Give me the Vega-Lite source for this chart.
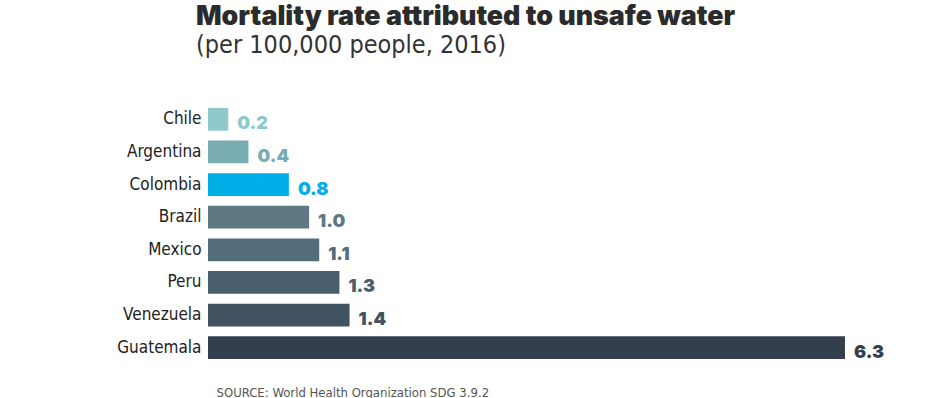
{
  "$schema": "https://vega.github.io/schema/vega-lite/v6.json",
  "autosize": "none",
  "width": 637,
  "height": 261,
  "padding": {"left": 208, "top": 103, "right": 102, "bottom": 34},
  "background": "white",
  "title": {
    "text": "Mortality rate attributed to unsafe water",
    "subtitle": "(per 100,000 people, 2016)",
    "anchor": "start",
    "frame": "group",
    "dx": -12,
    "offset": 45,
    "font": "Inter",
    "fontSize": 26.8,
    "fontWeight": 900,
    "color": "#2b2b2b",
    "subtitleFont": "DejaVu Sans Condensed",
    "subtitleFontSize": 25,
    "subtitleColor": "#333333",
    "subtitlePadding": 2
  },
  "data": {
    "values": [
      {"country": "Chile", "rate": 0.2, "color": "#8fc8cb"},
      {"country": "Argentina", "rate": 0.4, "color": "#7aadb1"},
      {"country": "Colombia", "rate": 0.8, "color": "#00aee8"},
      {"country": "Brazil", "rate": 1.0, "color": "#5e7984"},
      {"country": "Mexico", "rate": 1.1, "color": "#546d7a"},
      {"country": "Peru", "rate": 1.3, "color": "#4a5f6e"},
      {"country": "Venezuela", "rate": 1.4, "color": "#415260"},
      {"country": "Guatemala", "rate": 6.3, "color": "#333f4d"}
    ]
  },
  "encoding": {
    "y": {
      "field": "country",
      "type": "nominal",
      "sort": null,
      "scale": {"paddingInner": 0.3, "paddingOuter": 0.15},
      "axis": {
        "title": null,
        "domain": false,
        "ticks": false,
        "labelPadding": 7,
        "labelFont": "DejaVu Sans Condensed",
        "labelFontSize": 17,
        "labelFontWeight": 500,
        "labelColor": "#222222"
      }
    },
    "x": {
      "field": "rate",
      "type": "quantitative",
      "scale": {"domain": [0, 6.3], "nice": false},
      "axis": {
        "title": "SOURCE: World Health Organization SDG 3.9.2",
        "domain": false,
        "ticks": false,
        "labels": false,
        "grid": false,
        "titleAnchor": "start",
        "titleX": 8,
        "titlePadding": 22,
        "titleFont": "DejaVu Sans Condensed",
        "titleFontSize": 13,
        "titleFontWeight": "normal",
        "titleColor": "#555555"
      }
    },
    "color": {"field": "color", "type": "nominal", "scale": null}
  },
  "layer": [
    {"mark": {"type": "bar"}},
    {
      "mark": {
        "type": "text",
        "align": "left",
        "baseline": "middle",
        "dx": 9,
        "dy": 5,
        "font": "Inter",
        "fontSize": 18,
        "fontWeight": 900
      },
      "encoding": {"text": {"field": "rate", "type": "quantitative", "format": ".1f"}}
    }
  ],
  "config": {"view": {"stroke": null}}
}
